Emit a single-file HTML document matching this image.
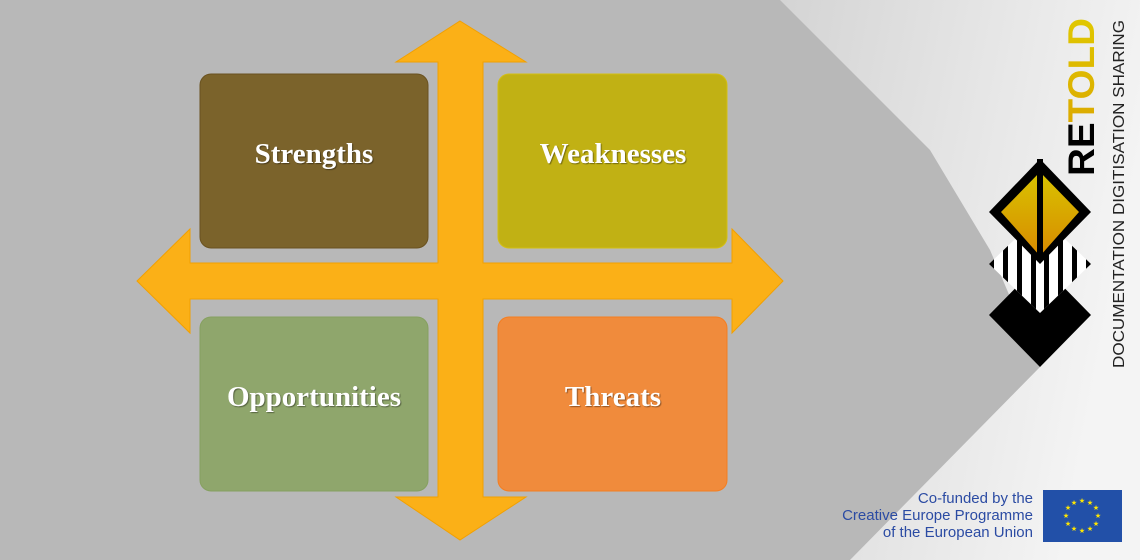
<!DOCTYPE html>
<html><head><meta charset="utf-8"><style>
html,body{margin:0;padding:0;width:1140px;height:560px;overflow:hidden;background:#b8b8b8}
</style></head><body>
<svg width="1140" height="560" viewBox="0 0 1140 560" xmlns="http://www.w3.org/2000/svg">
<defs>
<linearGradient id="bg" x1="0" y1="0" x2="1" y2="0.3">
<stop offset="0" stop-color="#d4d4d4"/><stop offset="1" stop-color="#f4f4f4"/></linearGradient>
<linearGradient id="gold" x1="0" y1="0" x2="0" y2="1">
<stop offset="0" stop-color="#d9c400"/><stop offset="1" stop-color="#d88a00"/></linearGradient>
<linearGradient id="goldt" x1="0" y1="0" x2="1" y2="0">
<stop offset="0" stop-color="#d99a00"/><stop offset="1" stop-color="#e0c800"/></linearGradient>
<clipPath id="dc"><polygon points="1040,215 1091,264 1040,313 989,264"/></clipPath>
</defs>
<rect width="1140" height="560" fill="#b8b8b8"/>
<polygon points="780,0 1140,0 1140,560 850,560 1040,367 990,250 930,150" fill="url(#bg)"/>
<polygon fill="#fbb017" stroke="#f2a000" stroke-width="1"
 points="460,21 526,62 483,62 483,263 732,263 732,229 783,281 732,333 732,299 483,299 483,497 526,497 460,540 396,497 438,497 438,299 190,299 190,333 137,281 190,229 190,263 438,263 438,62 396,62"/>
<rect x="200" y="74" width="228" height="174" rx="11" fill="#7b632b" stroke="#6a5220"/>
<rect x="498" y="74" width="229" height="174" rx="11" fill="#c1b114" stroke="#d4bf10"/>
<rect x="200" y="317" width="228" height="174" rx="11" fill="#8fa66c" stroke="#86a060"/>
<rect x="498" y="317" width="229" height="174" rx="11" fill="#f08b3c" stroke="#f57e20"/>
<g font-family="Liberation Serif, serif" font-weight="bold" font-size="29" fill="#fff" text-anchor="middle" style="text-shadow:1px 1px 1px rgba(0,0,0,.4)">
<text x="314" y="163">Strengths</text>
<text x="613" y="163">Weaknesses</text>
<text x="314" y="406">Opportunities</text>
<text x="613" y="406">Threats</text>
</g>
<polygon points="1040,263 1091,315 1040,367 989,315" fill="#000"/>
<g clip-path="url(#dc)">
<rect x="985" y="210" width="110" height="110" fill="#fff"/>
<g fill="#000">
<rect x="989" y="210" width="5" height="110"/><rect x="1003" y="210" width="5" height="110"/>
<rect x="1017" y="210" width="5" height="110"/><rect x="1031" y="210" width="5" height="110"/>
<rect x="1044" y="210" width="5" height="110"/><rect x="1058" y="210" width="5" height="110"/>
<rect x="1072" y="210" width="5" height="110"/><rect x="1086" y="210" width="5" height="110"/>
</g></g>
<polygon points="1040,159 1091,212 1040,264 989,212" fill="#000"/>
<polygon points="1040,172 1079,212 1040,256 1001,212" fill="url(#gold)"/>
<rect x="1037" y="159" width="6" height="100" fill="#000"/>
<text transform="translate(1094,176) rotate(-90)" font-family="Liberation Sans, sans-serif" font-weight="bold" font-size="37" textLength="158" lengthAdjust="spacingAndGlyphs"><tspan fill="#000">RE</tspan><tspan fill="url(#goldt)">TOLD</tspan></text>
<text transform="translate(1124,368) rotate(-90)" font-family="Liberation Sans, sans-serif" font-size="15.5" fill="#222" textLength="348" lengthAdjust="spacingAndGlyphs">DOCUMENTATION  DIGITISATION  SHARING</text>
<g font-family="Liberation Sans, sans-serif" font-size="15" fill="#2b4ba3" text-anchor="end">
<text x="1033" y="503">Co-funded by the</text>
<text x="1033" y="520">Creative Europe Programme</text>
<text x="1033" y="537">of the European Union</text>
</g>
<rect x="1043" y="490" width="79" height="52" fill="#2250a8"/>
<g fill="#ffe600" font-size="7" text-anchor="middle" font-family="DejaVu Sans, sans-serif">
<text x="1082" y="503">★</text><text x="1090" y="505">★</text><text x="1096" y="510">★</text>
<text x="1098" y="518">★</text><text x="1096" y="526">★</text><text x="1090" y="531">★</text>
<text x="1082" y="533">★</text><text x="1074" y="531">★</text><text x="1068" y="526">★</text>
<text x="1066" y="518">★</text><text x="1068" y="510">★</text><text x="1074" y="505">★</text>
</g>
</svg>
</body></html>
